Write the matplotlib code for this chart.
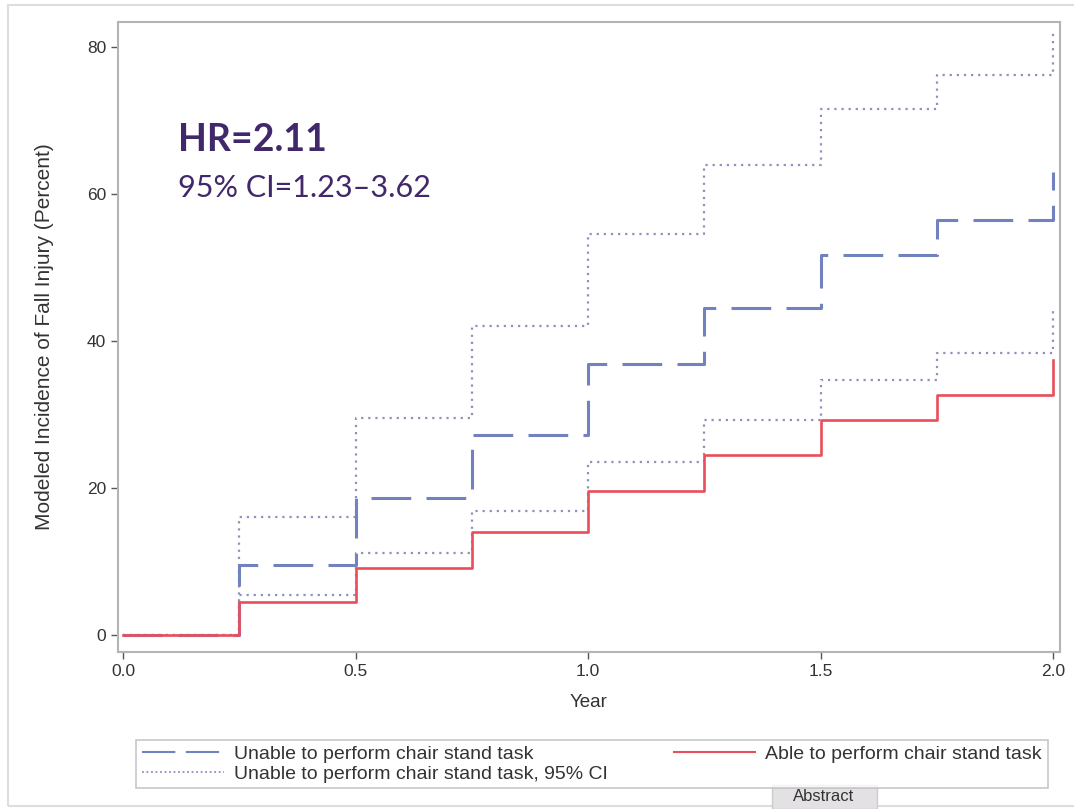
import matplotlib
matplotlib.use('Agg')
import matplotlib.pyplot as plt
from matplotlib.patches import Rectangle
from matplotlib.lines import Line2D

# ── data ───────────────────────────────────────────────────────────
year = [0.0, 0.25, 0.5, 0.75, 1.0, 1.25, 1.5, 1.75, 2.0]
unable = [0.0, 9.5, 18.6, 27.2, 36.9, 44.5, 51.7, 56.5, 63.0]
unable_hi = [0.0, 16.1, 29.5, 42.0, 54.6, 63.9, 71.6, 76.2, 82.0]
unable_lo = [0.0, 5.4, 11.2, 16.9, 23.5, 29.3, 34.7, 38.4, 44.2]
able = [0.0, 4.5, 9.1, 14.0, 19.6, 24.5, 29.3, 32.7, 37.4]

xticks = [0.0, 0.5, 1.0, 1.5, 2.0]
yticks = [0, 20, 40, 60, 80]

lab_unable = 'Unable to perform chair stand task'
lab_ci = 'Unable to perform chair stand task, 95% CI'
lab_able = 'Able to perform chair stand task'

blue = '#7282bf'
ci_col = '#8e92b8'
red = '#ea4e5a'
purple = '#40286a'
grey = '#b4b4b4'

plt.rcParams['font.family'] = ['Liberation Sans', 'DejaVu Sans']

fig = plt.figure(figsize=(10.74, 8.09), dpi=100)
ax = fig.add_axes([118 / 1074, 1 - 652 / 809, 942 / 1074, 630 / 809])

# outer light frame
fig.patches.append(Rectangle((8 / 1074, 1 - 806 / 809), 1.1, 801 / 809,
                             transform=fig.transFigure, fill=False,
                             edgecolor='#dddddd', lw=1.5))

ax.step(year, unable_hi, where='post', color=ci_col, lw=1.6, dashes=(1, 2.2))
ax.step(year, unable_lo, where='post', color=ci_col, lw=1.6, dashes=(1, 2.2))
ax.step(year, unable, where='post', color=blue, lw=2.2, dashes=(13, 5))
ax.step(year, able, where='post', color=red, lw=1.9)

ax.set_xlim(-0.011, 2.015)
ax.set_ylim(-2.3, 83.4)
ax.set_xticks(xticks)
ax.set_xticklabels([f'{t:.1f}' for t in xticks])
ax.set_yticks(yticks)
ax.tick_params(colors='#555555', labelcolor='#333333', labelsize=12.5,
               length=5, width=1)
for s in ax.spines.values():
    s.set_color(grey)
    s.set_linewidth(1.5)

ax.set_xlabel('Year', fontsize=13.5, color='#333333', labelpad=11)
ax.set_ylabel('Modeled Incidence of Fall Injury (Percent)', fontsize=15,
              color='#333333', labelpad=24)

fig.text(178 / 1074, 1 - 140 / 809, 'HR=2.11', fontsize=27,
         fontweight='bold', color=purple, family=['Lato', 'DejaVu Sans'],
         va='center')
fig.text(178 / 1074, 1 - 188 / 809, '95% CI=1.23\u20133.62', fontsize=22,
         color=purple, family=['Lato', 'DejaVu Sans'], va='center')

handles = [Line2D([], [], color=blue, lw=1.5, dashes=(16, 5)),
           Line2D([], [], color=ci_col, lw=1.3, dashes=(1, 1.5)),
           Line2D([], [], color=red, lw=1.5)]
leg = fig.legend(handles, [lab_unable, lab_ci, lab_able], ncol=2,
                 loc='center', bbox_to_anchor=(592 / 1074, 1 - 764 / 809),
                 fontsize=14, frameon=True, fancybox=False,
                 edgecolor='#bbbbbb', handlelength=4.2, columnspacing=3.4,
                 labelspacing=0.1, borderpad=0.3, handletextpad=0.5)
leg.get_frame().set_linewidth(1.2)
for t in leg.get_texts():
    t.set_color('#333333')

# "Abstract" tab at the bottom
fig.patches.append(Rectangle((772 / 1074, 0), 105 / 1074, 24 / 809,
                             transform=fig.transFigure, facecolor='#e4e1e4',
                             edgecolor='#cccccc', lw=1))
fig.text(824 / 1074, 5 / 809, 'Abstract', ha='center', va='bottom',
         fontsize=12, color='#333333')

fig.savefig('out.png', dpi=100)
